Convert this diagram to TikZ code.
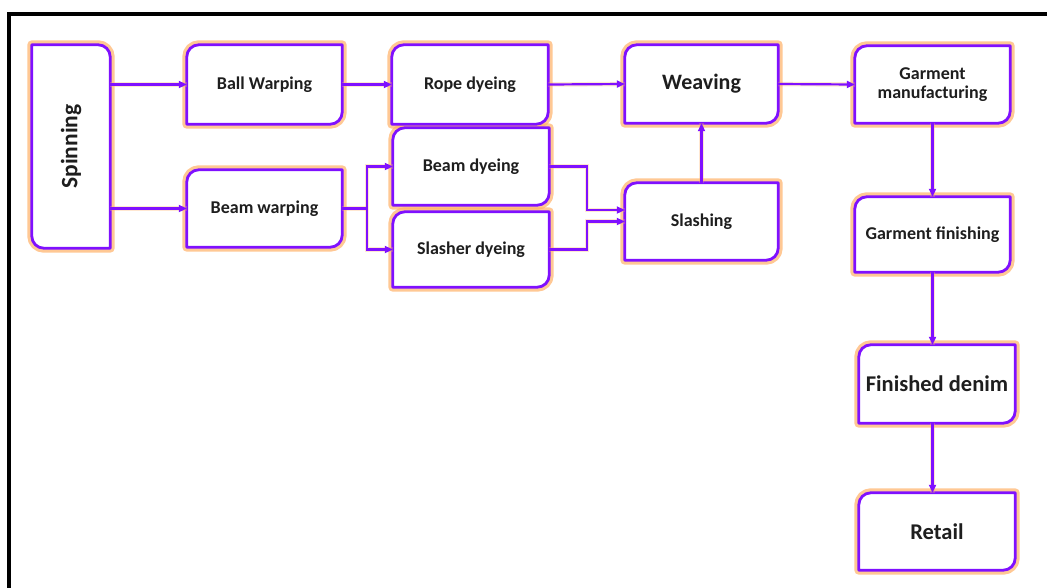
\documentclass[tikz,border=0pt]{standalone}
\usepackage{fontspec}
\usepackage{graphicx}
\setmainfont{Carlito}
\usetikzlibrary{arrows.meta}
\pgfdeclarelayer{background}
\pgfsetlayers{background,main}
\definecolor{vio}{HTML}{7F10FF}
\definecolor{glowc}{HTML}{FFB066}
\definecolor{txt}{HTML}{1E1E1E}
\tikzset{
  box/.style={inner sep=0pt, align=center, text=txt, font=\bfseries\fontsize{18}{18.5}\selectfont},
  bigbox/.style={box, font=\bfseries\fontsize{22.5}{23}\selectfont},
  glow/.style={draw=glowc, line width=9pt, opacity=0.7, line join=round},
  blank/.style={fill=white},
  border/.style={draw=vio, line width=2.8pt, line join=round},
  conglow/.style={draw=glowc, line width=4.5pt, opacity=0.3},
  con/.style={draw=vio, line width=2.2pt},
  arr/.style={con, -{Triangle[length=8pt,width=7pt]}},
}
\begin{document}
\begin{tikzpicture}[x=1pt,y=-1pt]
\useasboundingbox (0,0) rectangle (1047,587);
% outer frame
\coordinate (fbl) at (9,590);
\coordinate (ftl) at (9,14);
\coordinate (ftr) at (1050,14);
\draw[line width=4pt] (fbl) -- (ftl) -- (ftr);

% nodes
\node[box, font=\bfseries\fontsize{23.5}{24}\selectfont, minimum width=78pt, minimum height=203pt] (spin) at (71,146.5) {\rotatebox{90}{Spinning}};
\node[box, minimum width=155pt, minimum height=79pt] (ball) at (264.5,84.5) {Ball Warping};
\node[box, minimum width=155pt, minimum height=77pt] (beamw) at (264.5,208.5) {Beam warping};
\node[box, minimum width=156pt, minimum height=79pt] (rope) at (470,84.5) {Rope dyeing};
\node[box, minimum width=156pt, minimum height=77pt] (beamd) at (471,166.5) {Beam dyeing};
\node[box, minimum width=156pt, minimum height=75pt] (slasher) at (471,249.5) {Slasher dyeing};
\node[bigbox, font=\bfseries\fontsize{22}{23}\selectfont, minimum width=153pt, minimum height=78pt] (weave) at (701.5,84) {Weaving};
\node[box, minimum width=153pt, minimum height=77pt] (slash) at (701.5,221.5) {Slashing};
\node[box, minimum width=155pt, minimum height=77pt] (gman) at (932.5,84.5) {Garment\\manufacturing};
\node[box, minimum width=155pt, minimum height=75pt] (gfin) at (932.5,234.5) {Garment finishing};
\node[bigbox, minimum width=156pt, minimum height=78pt] (fden) at (937,384) {Finished denim};
\node[bigbox, minimum width=156pt, minimum height=77pt] (retail) at (937,531.5) {Retail};

% box outlines: rounded NW and SE corners
\foreach \n in {ball,beamw,rope,beamd,slasher,weave,slash,gman,gfin,fden,retail}{
  \begin{pgfonlayer}{background}
  \foreach \s in {glow,blank}{
    \path[\s] (\n.north east) -- ([xshift=12pt]\n.north west)
      arc[start angle=90,end angle=180,radius=12pt] -- (\n.south west)
      -- ([xshift=-12pt]\n.south east)
      arc[start angle=270,end angle=360,radius=12pt] -- cycle;
  }
  \end{pgfonlayer}
  \path[border] (\n.north east) -- ([xshift=12pt]\n.north west)
    arc[start angle=90,end angle=180,radius=12pt] -- (\n.south west)
    -- ([xshift=-12pt]\n.south east)
    arc[start angle=270,end angle=360,radius=12pt] -- cycle;
}
% spinning: rounded NE and SW corners
\begin{pgfonlayer}{background}
\foreach \s in {glow,blank}{
  \path[\s] (spin.north west) -- ([xshift=-12pt]spin.north east)
    arc[start angle=90,end angle=0,radius=12pt] -- (spin.south east)
    -- ([xshift=12pt]spin.south west)
    arc[start angle=270,end angle=180,radius=12pt] -- cycle;
}
\end{pgfonlayer}
\path[border] (spin.north west) -- ([xshift=-12pt]spin.north east)
  arc[start angle=90,end angle=0,radius=12pt] -- (spin.south east)
  -- ([xshift=12pt]spin.south west)
  arc[start angle=270,end angle=180,radius=12pt] -- cycle;

% connectors
\coordinate (split) at (367,208.5);
\coordinate (jbd) at (587,166.5);
\coordinate (jsd) at (587,249.5);
\foreach \s/\a in {conglow/conglow,con/arr}{
  \path[\a] (spin.east |- ball) -- (ball.west);
  \path[\a] (spin.east |- beamw) -- (beamw.west);
  \path[\a] (ball.east) -- (rope.west);
  \path[\a] (rope.east) -- (weave.west);
  \path[\a] (weave.east) -- (gman.west);
  \path[\s] (beamw.east) -- (split);
  \path[\a] (split) |- (beamd.west);
  \path[\a] (split) |- (slasher.west);
  \path[\a] (beamd.east) -- (jbd) |- ([yshift=11.5pt]slash.west);
  \path[\a] (slasher.east) -- (jsd) |- (slash.west);
  \path[\a] (slash.north) -- (weave.south);
  \path[\a] (gman.south) -- (gfin.north);
  \path[\a] (gfin.south) -- (gfin.south |- fden.north);
  \path[\a] (fden.south -| gfin.south) -- (retail.north -| gfin.south);
}
\end{tikzpicture}
\end{document}
